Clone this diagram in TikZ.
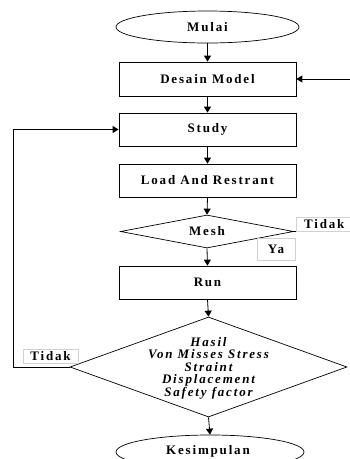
\documentclass[tikz,border=0pt]{standalone}
\usepackage{fontspec}
\setmainfont{Liberation Serif}[LetterSpace=14]
\usetikzlibrary{shapes.geometric,arrows.meta}
\begin{document}
\begin{tikzpicture}[x=1pt,y=-1pt,
  every node/.style={font=\fontsize{13}{12.5}\selectfont\bfseries},
  procbox/.style={draw,line width=0.7pt,minimum width=177pt,minimum height=33pt,inner sep=0pt},
  termell/.style={draw,ellipse,line width=0.7pt,inner sep=0pt},
  decdia/.style={draw,diamond,line width=0.7pt,inner sep=0pt},
  lbl/.style={draw=black!18,line width=0.5pt,fill=white,inner sep=0pt,minimum height=14pt},
  arr/.style={-{Triangle[length=6pt,width=7pt]},line width=0.8pt},
  ln/.style={line width=0.8pt}]
\useasboundingbox (0,0) rectangle (350,459);
\clip (0,0) rectangle (350,459);
% nodes
\node[termell,minimum width=183pt,minimum height=32pt] (mulai) at (207.5,27) {Mulai};
\node[procbox,minimum height=34pt] (desain) at (207.5,79) {Desain Model};
\node[procbox] (study) at (207.5,129.5) {Study};
\node[procbox] (load) at (207.5,180.5) {Load And Restrant};
\node[decdia,minimum width=173pt,minimum height=33pt] (mesh) at (207,231.5) {};
\node at (mesh.center) (meshtxt) {Mesh};
\node[procbox] (run) at (207.5,282.5) {Run};
\node[decdia,minimum width=277pt,minimum height=100pt] (hasil) at (208.5,367) {};
\node[align=center,font=\fontsize{13}{12.5}\selectfont\bfseries\itshape] (hasiltxt) at (208.5,368) {Hasil\\Von Misses Stress\\Straint\\Displacement\\Safety factor};
\node[termell,minimum width=188pt,minimum height=34pt] (kes) at (210,452) {};
\node (kestxt) at (208,451) {Kesimpulan};
% connectors
\coordinate (rin) at (352,79);
\coordinate (mout) at (352,231.5);
\coordinate (lc1) at (13,367);
\coordinate (lc2) at (13,129.5);
\draw[arr] (mulai.south) -- (desain.north);
\draw[arr] (desain.south) -- (study.north);
\draw[arr] (study.south) -- (load.north);
\draw[arr] (load.south) -- (mesh.north);
\draw[arr] (mesh.south) -- (run.north);
\draw[arr] (run.south) -- (hasil.north);
\draw[arr] (hasil.south) -- (kes.north);
\draw[arr] (rin) -- (desain.east);
\draw[ln] (mesh.east) -- (mout);
\draw[arr] (hasil.west) -- (lc1) -- (lc2) -- (study.west);
% labels
\node[lbl,minimum width=56pt,anchor=south west] (tidak1) at (296,231.5) {Tidak};
\node[lbl,minimum width=38pt,minimum height=22pt] (ya) at (276,249) {Ya};
\node[lbl,minimum width=55pt] (tidak2) at (50.5,356) {Tidak};
\end{tikzpicture}
\end{document}
